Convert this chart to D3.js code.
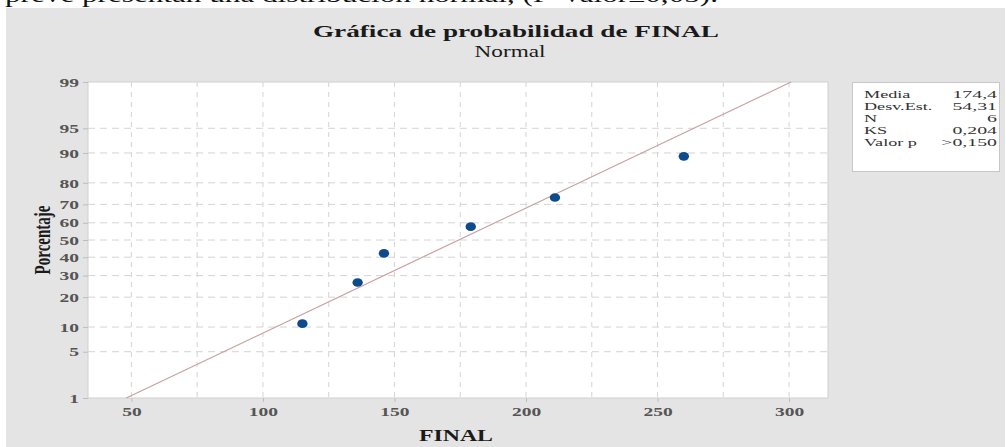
<!DOCTYPE html>
<html>
<head>
<meta charset="utf-8">
<script src="https://cdn.jsdelivr.net/npm/d3@7"></script>
<style>
  body { margin: 0; background: #ffffff; }
  svg { display: block; }
  text { font-family: "Liberation Serif", "Times New Roman", serif; }
</style>
</head>
<body>
<svg id="chart" width="1006" height="447"></svg>
<script>
// Observations of FINAL and their plotted cumulative percentages (median ranks)
const finalValues   = [115, 136, 146, 179, 211, 260];
const percentValues = [10.9, 26.6, 42.2, 57.8, 73.4, 89.1];

// Axis ticks
const xTicks = [50, 100, 150, 200, 250, 300];
const xGridValues = [50, 75, 100, 125, 150, 175, 200, 225, 250, 275, 300];
const yTicks = [1, 5, 10, 20, 30, 40, 50, 60, 70, 80, 90, 95, 99];

// Summary statistics box
const statLabels = ["Media", "Desv.Est.", "N", "KS", "Valor p"];
const statValues = ["174,4", "54,31", "6", "0,204", ">0,150"];

// Fitted normal distribution
const fitMean = 174.4;
const fitSd = 54.31;

// Inverse standard normal CDF (Acklam's rational approximation)
function probit(p) {
  const a = [-3.969683028665376e+01, 2.209460984245205e+02, -2.759285104469687e+02,
             1.383577518672690e+02, -3.066479806614716e+01, 2.506628277459239e+00];
  const b = [-5.447609879822406e+01, 1.615858368580409e+02, -1.556989798598866e+02,
             6.680131188771972e+01, -1.328068155288572e+01];
  const c = [-7.784894002430293e-03, -3.223964580411365e-01, -2.400758277161838e+00,
             -2.549732539343734e+00, 4.374664141464968e+00, 2.938163982698783e+00];
  const d = [7.784695709041462e-03, 3.224671290700398e-01, 2.445134137142996e+00,
             3.754408661907416e+00];
  const pl = 0.02425, ph = 1 - pl;
  let q, r;
  if (p < pl) {
    q = Math.sqrt(-2 * Math.log(p));
    return (((((c[0]*q+c[1])*q+c[2])*q+c[3])*q+c[4])*q+c[5]) /
           ((((d[0]*q+d[1])*q+d[2])*q+d[3])*q+1);
  } else if (p <= ph) {
    q = p - 0.5; r = q * q;
    return (((((a[0]*r+a[1])*r+a[2])*r+a[3])*r+a[4])*r+a[5])*q /
           (((((b[0]*r+b[1])*r+b[2])*r+b[3])*r+b[4])*r+1);
  } else {
    q = Math.sqrt(-2 * Math.log(1 - p));
    return -(((((c[0]*q+c[1])*q+c[2])*q+c[3])*q+c[4])*q+c[5]) /
            ((((d[0]*q+d[1])*q+d[2])*q+d[3])*q+1);
  }
}

const svg = d3.select("#chart");

// Horizontally widen text glyphs by factor k
function widen(sel, k) {
  sel.each(function () {
    const w = this.getComputedTextLength();
    d3.select(this).attr("textLength", w * k).attr("lengthAdjust", "spacingAndGlyphs");
  });
}

// Line of running document text above the figure, mostly cut off by the page top
svg.append("text")
  .attr("x", 5).attr("y", 2)
  .attr("font-size", 21).attr("fill", "#111")
  .attr("textLength", 713).attr("lengthAdjust", "spacingAndGlyphs")
  .text("prevé presentan una distribución normal, (P-Valor≥0,05).");

// Figure background
svg.append("rect")
  .attr("x", 6).attr("y", 8).attr("width", 999).attr("height", 439)
  .attr("fill", "#e4e4e4");

const plot = { left: 88, right: 828, top: 82, bottom: 398 };

const x = d3.scaleLinear().domain([33.5, 314.8]).range([plot.left, plot.right]);
// Normal probability scale: linear in the standard-normal quantile
const z = d3.scaleLinear().domain([probit(0.01), probit(0.99)]).range([plot.bottom, plot.top]);
const y = p => z(probit(p / 100));

// Plot area
svg.append("rect")
  .attr("x", plot.left).attr("y", plot.top)
  .attr("width", plot.right - plot.left).attr("height", plot.bottom - plot.top)
  .attr("fill", "#ffffff").attr("stroke", "#cfcfcf").attr("stroke-width", 1);

// Grid
const grid = svg.append("g").attr("stroke", "#d4d4d4").attr("stroke-width", 1)
  .attr("stroke-dasharray", "7,5");
grid.selectAll("line.v").data(xGridValues).join("line").attr("class", "v")
  .attr("x1", d => x(d)).attr("x2", d => x(d))
  .attr("y1", plot.top).attr("y2", plot.bottom)
  .attr("stroke-dasharray", "5,5");
grid.selectAll("line.h").data(yTicks.filter(d => d !== 1 && d !== 99)).join("line").attr("class", "h")
  .attr("x1", plot.left).attr("x2", plot.right)
  .attr("y1", d => y(d)).attr("y2", d => y(d));

// Axes
const xAxis = d3.axisBottom(x).tickValues(xTicks).tickSize(4).tickPadding(5)
  .tickFormat(d3.format("d"));
const gx = svg.append("g").attr("transform", `translate(0,${plot.bottom})`).call(xAxis);
gx.select(".domain").remove();
gx.selectAll(".tick line").attr("stroke", "#bdbdbd");
gx.selectAll(".tick text")
  .attr("font-family", "Liberation Serif, serif").attr("font-size", 13)
  .attr("font-weight", "bold").attr("fill", "#555")
  .call(widen, 1.5);

const yAxis = d3.axisLeft(z).tickValues(yTicks.map(p => probit(p / 100)))
  .tickSize(5).tickPadding(4)
  .tickFormat((d, i) => String(yTicks[i]));
const gy = svg.append("g").attr("transform", `translate(${plot.left},0)`).call(yAxis);
gy.select(".domain").remove();
gy.selectAll(".tick line").attr("stroke", "#bdbdbd");
gy.selectAll(".tick text")
  .attr("font-family", "Liberation Serif, serif").attr("font-size", 13)
  .attr("font-weight", "bold").attr("fill", "#555")
  .call(widen, 1.5);

// Fitted normal line
const fitPercents = [1, 99];
svg.append("path")
  .datum(fitPercents)
  .attr("fill", "none").attr("stroke", "#c9a0a0").attr("stroke-width", 1.2)
  .attr("d", d3.line()
    .x(p => x(fitMean + probit(p / 100) * fitSd))
    .y(p => y(p)));

// Observations
svg.append("g").selectAll("ellipse")
  .data(finalValues.map((v, i) => ({ v, p: percentValues[i] })))
  .join("ellipse")
  .attr("cx", d => x(d.v)).attr("cy", d => y(d.p))
  .attr("rx", 5.2).attr("ry", 4.3)
  .attr("fill", "#0d4b8c");

// Titles
svg.append("text")
  .attr("x", 516).attr("y", 37).attr("text-anchor", "middle")
  .attr("font-size", 17).attr("font-weight", "bold").attr("fill", "#1a1a1a")
  .text("Gráfica de probabilidad de FINAL")
  .call(widen, 1.6);
svg.append("text")
  .attr("x", 510).attr("y", 57).attr("text-anchor", "middle")
  .attr("font-size", 16).attr("fill", "#1a1a1a")
  .text("Normal")
  .call(widen, 1.45);

svg.append("text")
  .attr("x", 456).attr("y", 441).attr("text-anchor", "middle")
  .attr("font-size", 17).attr("font-weight", "bold").attr("fill", "#1a1a1a")
  .text("FINAL")
  .call(widen, 1.4);

svg.append("text")
  .attr("transform", "translate(50,240) scale(1.5,1) rotate(-90)")
  .attr("text-anchor", "middle")
  .attr("font-size", 15).attr("font-weight", "bold").attr("fill", "#1a1a1a")
  .text("Porcentaje");

// Statistics box
svg.append("rect")
  .attr("x", 852.5).attr("y", 82.5).attr("width", 147).attr("height", 89)
  .attr("fill", "#ffffff").attr("stroke", "#c8c8c8");
const stats = svg.append("g").attr("font-size", 11).attr("fill", "#333");
stats.selectAll("text.lab").data(statLabels).join("text").attr("class", "lab")
  .attr("x", 864).attr("y", (d, i) => 98 + i * 12)
  .text(d => d)
  .call(widen, 1.65);
stats.selectAll("text.val").data(statValues).join("text").attr("class", "val")
  .attr("x", 997).attr("y", (d, i) => 98 + i * 12)
  .attr("text-anchor", "end")
  .text(d => d)
  .call(widen, 1.8);
</script>
</body>
</html>
